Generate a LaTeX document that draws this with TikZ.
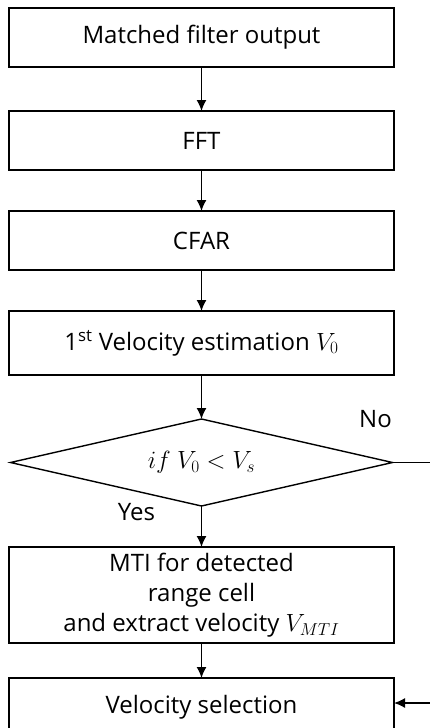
\documentclass[tikz,border=0pt]{standalone}
\usepackage{fontspec}
\setmainfont{Open Sans}
\usetikzlibrary{positioning,shapes.geometric,arrows.meta}
\tikzset{
  procbox/.style={draw, line width=1.4pt, minimum width=385pt, minimum height=59pt,
                  inner sep=0pt, outer sep=0pt, font=\fontsize{24}{30}\selectfont, align=center},
  decbox/.style={draw, diamond, line width=1.4pt, minimum width=382pt, minimum height=87pt,
                 shape aspect=4.4, inner sep=0pt, outer sep=0pt, font=\fontsize{24}{30}\selectfont},
  arr/.style={-{Latex[length=11pt,width=10pt]}, line width=1.4pt},
  lbl/.style={font=\fontsize{24}{30}\selectfont}
}
\begin{document}
\begin{tikzpicture}[x=1pt, y=1pt, node distance=41pt]
  \useasboundingbox (0,-728) rectangle (430,0);
  \node[procbox] (mf) at (201.5,-37.5) {Matched filter output};
  \node[procbox, below=44pt of mf] (fft) {FFT};
  \node[procbox, below=of fft] (cfar) {CFAR};
  \node[procbox, minimum height=64pt, below=of cfar] (vest)
       {1\textsuperscript{st} Velocity estimation $V_0$};
  \node[decbox, below=44pt of vest] (cmp) {$if\ V_0 < V_s$};
  \node[procbox, minimum height=96pt, below=of cmp] (mti)
       {MTI for detected\\range cell\\and extract velocity $V_{MTI}$};
  \node[procbox, minimum height=58pt, below=35pt of mti] (vsel) {Velocity selection};

  % branch labels
  \node[lbl] (yes) at ([xshift=-65pt,yshift=-6pt]cmp.south) {Yes};
  \node[lbl] (no) at ([xshift=-17pt,yshift=43pt]cmp.east) {No};

  \draw[arr] (mf) -- (fft);
  \draw[arr] (fft) -- (cfar);
  \draw[arr] (cfar) -- (vest);
  \draw[arr] (vest) -- (cmp);
  \draw[arr] (cmp) -- (mti);
  \draw[arr] (mti) -- (vsel);
  \coordinate[right=40pt of cmp.east] (noturn);
  \draw[arr] (cmp.east) -- (noturn) |- ([yshift=4pt]vsel.east);
\end{tikzpicture}
\end{document}
